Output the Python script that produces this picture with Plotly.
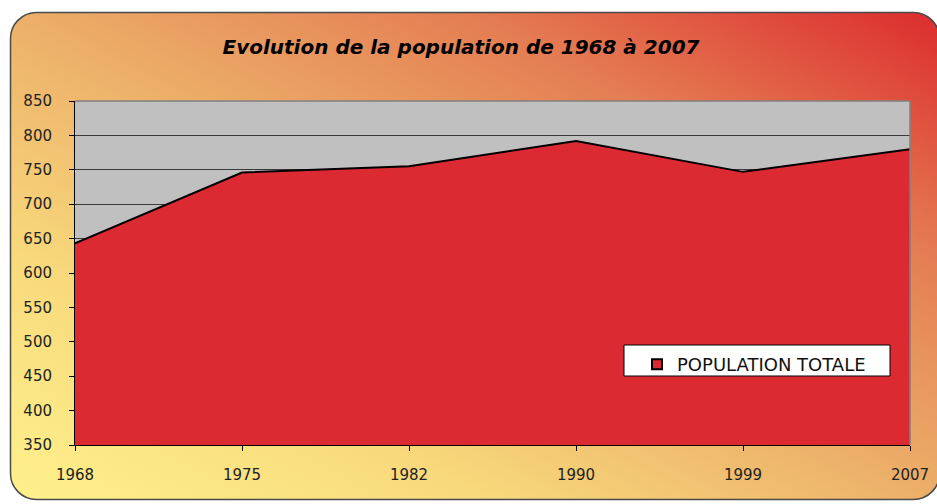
import base64
import plotly.graph_objects as go

years = ["1968", "1975", "1982", "1990", "1999", "2007"]
population = [643, 746, 755, 792, 747, 780]
y_ticks = [350, 400, 450, 500, 550, 600, 650, 700, 750, 800, 850]

W, H = 937, 504
ML, MR, MT, MB = 75, 27, 101, 59
PW, PH = W - ML - MR, H - MT - MB

svg = f'''<svg xmlns="http://www.w3.org/2000/svg" width="{W}" height="{H}" viewBox="0 0 {W} {H}">
<defs><linearGradient id="g" x1="0" y1="1" x2="1" y2="0">
<stop offset="0" stop-color="#FEF18C"/>
<stop offset="0.25" stop-color="#F8DA7C"/>
<stop offset="0.5" stop-color="#ECAF69"/>
<stop offset="0.75" stop-color="#E47C52"/>
<stop offset="1" stop-color="#DC2C2E"/>
</linearGradient></defs>
<rect x="10.5" y="12.5" width="929" height="487" rx="26" ry="26" fill="url(#g)" stroke="#4a4a4a" stroke-width="1.5"/>
</svg>'''
bg_src = "data:image/svg+xml;base64," + base64.b64encode(svg.encode()).decode()

xs = list(range(len(years)))

fig = go.Figure()
fig.add_trace(go.Scatter(
    x=xs, y=population, mode="lines", fill="tozeroy",
    fillcolor="#DB2A32", line=dict(color="black", width=2),
    showlegend=False, hoverinfo="skip"))
fig.add_trace(go.Scatter(
    x=[None], y=[None], mode="markers", name="POPULATION TOTALE",
    marker=dict(symbol="square", size=10, color="#DB2A32",
                line=dict(color="black", width=2))))

fig.update_layout(
    width=W, height=H,
    margin=dict(l=ML, r=MR, t=MT, b=MB, autoexpand=False),
    paper_bgcolor="white",
    plot_bgcolor="#C0C0C0",
    title=dict(text="<b><i>Evolution de la population de 1968 à 2007</i></b>",
               x=461 / W, xanchor="center", xref="container",
               y=1 - 47 / H, yanchor="middle", yref="container",
               font=dict(family="DejaVu Sans", size=20, color="black")),
    font=dict(family="DejaVu Sans", color="#222222"),
    xaxis=dict(range=[0, len(years) - 1], tickmode="array", tickvals=xs,
               ticktext=years, showgrid=False, zeroline=False, automargin=False,
               showline=True, linecolor="black", linewidth=1,
               ticks="outside", ticklen=5, tickcolor="black",
               ticklabelstandoff=11, tickfont=dict(size=15, color="#222222")),
    yaxis=dict(range=[350, 850], tickmode="array", tickvals=y_ticks,
               showgrid=True, gridcolor="#3a3a3a", gridwidth=1, automargin=False,
               zeroline=False, showline=True, linecolor="black", linewidth=1,
               ticks="outside", ticklen=5, tickcolor="black",
               ticklabelstandoff=14, tickfont=dict(size=15, color="#222222")),
    legend=dict(x=(637 - ML) / PW, y=(445 - 346) / PH, xanchor="left", yanchor="top",
                bgcolor="rgba(0,0,0,0)", borderwidth=0,
                font=dict(family="DejaVu Sans", size=18, color="#111111"),
                itemwidth=30),
    images=[dict(source=bg_src, xref="paper", yref="paper",
                 x=-ML / PW, y=1 + MT / PH, sizex=W / PW, sizey=H / PH,
                 xanchor="left", yanchor="top", sizing="stretch", layer="below")],
    shapes=[
        dict(type="rect", xref="paper", yref="paper", x0=0, x1=1, y0=0, y1=1,
             fillcolor="#C0C0C0", line=dict(width=0), layer="below"),
        dict(type="rect", xref="paper", yref="paper",
             x0=(624 - ML) / PW, x1=(890 - ML) / PW,
             y0=(445 - 376) / PH, y1=(445 - 345) / PH,
             fillcolor="white", line=dict(color="black", width=1), layer="above"),
        dict(type="line", xref="paper", yref="paper", x0=0, x1=1, y0=1, y1=1,
             line=dict(color="#808080", width=1.5), layer="above"),
        dict(type="line", xref="paper", yref="paper", x0=1, x1=1, y0=0, y1=1,
             line=dict(color="#808080", width=1.5), layer="above"),
    ],
)

fig.write_html("out.html", config={"displayModeBar": False},
               post_script="document.body.style.margin='0';")
